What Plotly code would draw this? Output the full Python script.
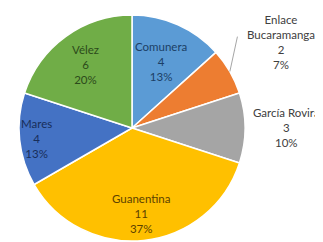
import math
import plotly.graph_objects as go

categories = ["Comunera", "Enlace Bucaramanga", "García Rovira", "Guanentina", "Mares", "Vélez"]
display_names = ["Comunera", "Enlace<br>Bucaramanga", "García Rovira", "Guanentina", "Mares", "Vélez"]
values = [4, 2, 3, 11, 4, 6]
colors = ["#5B9BD5", "#ED7D31", "#A5A5A5", "#FFC000", "#4472C4", "#70AD47"]
text_colors = ["#1B3F66", "#404040", "#404040", "#5C4200", "#182E5A", "#2C4A1B"]
# label distance from the centre, as a fraction of the radius
label_radius = [0.64, 1.52, 1.37, 0.76, 0.85, 0.70]

# page body has an 8px default margin: size the figure to the visible area
OFF = 8
W, H = 323 - OFF, 242 - OFF
cx, cy, r = 132 - OFF, 128 - OFF, 113

fig = go.Figure(go.Pie(
    labels=categories,
    values=values,
    textinfo="none",
    marker=dict(colors=colors, line=dict(color="white", width=1.5)),
    sort=False,
    direction="clockwise",
    rotation=0,
    showlegend=False,
    hoverinfo="label+value+percent",
    domain=dict(x=[(cx - r) / W, (cx + r) / W], y=[(H - cy - r) / H, (H - cy + r) / H]),
))

def to_paper(px, py):
    return px / W, (H - py) / H

total = sum(values)
start = 0
for name, disp, v, tc, f in zip(categories, display_names, values, text_colors, label_radius):
    mid = math.radians((start + v / 2) / total * 360)
    start += v
    lx = cx + f * r * math.sin(mid)
    ly = cy - f * r * math.cos(mid)
    xp, yp = to_paper(lx, ly)
    fig.add_annotation(
        x=xp, y=yp, xref="paper", yref="paper", xanchor="center", yanchor="middle",
        text="%s<br>%d<br>%d%%" % (disp, v, round(100 * v / total)),
        showarrow=False, font=dict(family="Lato", size=11.5, color=tc),
    )
    if f > 1.45:
        # leader line from slice edge up to the label
        hx = cx + 1.0 * r * math.sin(mid)
        hy = cy - 1.0 * r * math.cos(mid)
        tx, ty = lx - 43, ly - 7
        hxp, hyp = to_paper(hx, hy)
        fig.add_annotation(
            x=hxp, y=hyp, xref="paper", yref="paper", text="",
            showarrow=True, arrowhead=0, arrowwidth=1, arrowcolor="#A6A6A6",
            ax=tx - hx, ay=ty - hy, axref="pixel", ayref="pixel",
        )

fig.update_layout(
    width=W, height=H,
    margin=dict(l=0, r=0, t=0, b=0),
    paper_bgcolor="white",
    plot_bgcolor="white",
    font=dict(family="Lato"),
)
fig.write_html("out.html")
